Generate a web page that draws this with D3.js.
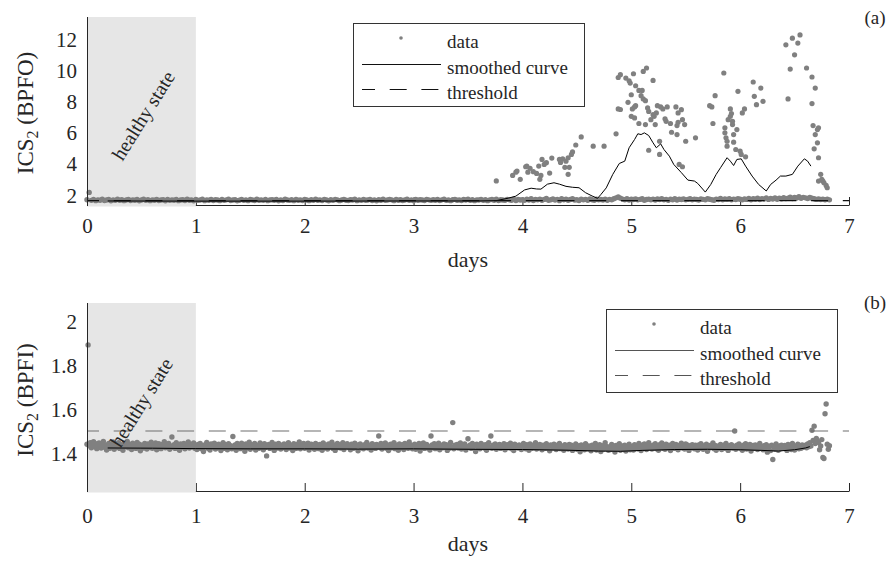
<!DOCTYPE html>
<html>
<head>
<meta charset="utf-8">
<script src="https://cdn.jsdelivr.net/npm/d3@7"></script>
<style>
  body { margin: 0; background: #fff; }
  svg text { font-family: "Liberation Serif", "Times New Roman", serif; }
</style>
</head>
<body>
<svg id="chart" width="892" height="562"></svg>
<script>
// shared axis values
var dayTicks = [0, 1, 2, 3, 4, 5, 6, 7];
var healthyDays = [0, 1];
var legendLabels = ["data", "smoothed curve", "threshold"];

// (a) BPFO -- low band sampled every bpfoStep days, starting at day 0
var bpfoTicks = [2, 4, 6, 8, 10, 12];
var bpfoStep = 0.02;
var bpfoLow = [
  1.72,2.19,1.68,1.74,1.66,1.71,1.69,1.75,1.67,1.70,1.73,1.65,1.71,1.68,1.76,1.69,1.72,1.66,1.70,1.74,
  1.67,1.71,1.69,1.73,1.65,1.70,1.75,1.68,1.72,1.66,1.71,1.69,1.74,1.67,1.70,1.72,1.65,1.73,1.68,1.71,
  1.69,1.74,1.66,1.70,1.72,1.67,1.75,1.69,1.71,1.65,1.73,1.68,1.70,1.76,1.66,1.71,1.69,1.74,1.67,1.72,
  1.70,1.66,1.73,1.68,1.71,1.75,1.67,1.70,1.72,1.65,1.69,1.74,1.68,1.71,1.66,1.73,1.70,1.67,1.75,1.69,
  1.71,1.68,1.74,1.66,1.70,1.72,1.69,1.73,1.65,1.71,1.67,1.75,1.70,1.68,1.72,1.66,1.74,1.69,1.71,1.67,
  1.73,1.70,1.66,1.72,1.68,1.75,1.69,1.71,1.67,1.74,1.70,1.65,1.72,1.68,1.73,1.71,1.66,1.70,1.74,1.69,
  1.67,1.72,1.70,1.75,1.66,1.71,1.68,1.73,1.69,1.70,1.74,1.67,1.71,1.65,1.72,1.69,1.76,1.68,1.70,1.73,
  1.71,1.66,1.74,1.69,1.72,1.67,1.70,1.75,1.68,1.71,1.66,1.73,1.69,1.72,1.70,1.67,1.74,1.71,1.68,1.72,
  1.69,1.73,1.67,1.71,1.75,1.68,1.70,1.66,1.72,1.74,1.69,1.71,1.67,1.73,1.70,1.76,1.68,1.72,1.66,1.71,
  1.70,1.74,1.68,1.72,1.66,1.71,1.73,1.69,1.75,1.67,1.72,1.70,1.68,1.74,1.71,1.69,1.76,1.67,1.73,1.70,
  1.72,1.68,1.75,1.70,1.78,1.67,1.73,1.71,1.76,1.69,1.74,1.80,1.68,1.72,1.77,1.70,1.74,1.66,1.79,1.71,
  1.75,1.69,1.73,1.78,1.70,1.72,1.67,1.76,1.71,1.74,1.69,1.77,1.72,1.68,1.75,1.71,1.73,1.70,1.76,1.69,
  1.74,1.71,1.78,1.84,1.90,1.82,1.76,1.72,1.79,1.70,1.75,1.73,1.77,1.71,1.74,1.78,1.69,1.73,1.76,1.72,
  1.75,1.70,1.77,1.73,1.79,1.71,1.74,1.68,1.76,1.72,1.78,1.70,1.75,1.73,1.77,1.71,1.74,1.79,1.72,1.76,
  1.73,1.70,1.77,1.74,1.71,1.78,1.75,1.72,1.69,1.76,1.73,1.80,1.71,1.77,1.74,1.79,1.72,1.76,1.73,1.78,
  1.75,1.71,1.77,1.74,1.80,1.72,1.78,1.75,1.82,1.73,1.79,1.76,1.84,1.74,1.80,1.77,1.83,1.75,1.81,1.78,
  1.85,1.79,1.82,1.88,1.80,1.86,1.83,1.91,1.81,1.87,1.84,1.80,1.86,1.82,1.78,1.74,1.77,1.73,1.76,1.72,
  1.75,1.71
];
// (a) BPFO -- scattered high readings, [day, value]
var bpfoHigh = [
  [3.76,2.93],[3.91,3.28],[3.94,3.49],[3.95,3.56],[3.98,3.03],[4.03,3.84],[4.04,3.88],[4.05,3.49],
  [4.07,3.74],[4.10,3.52],[4.13,3.41],[4.15,3.88],[4.16,3.03],[4.17,3.28],[4.18,4.31],[4.20,3.99],
  [4.22,4.10],[4.25,3.43],[4.27,4.40],[4.34,4.31],[4.35,4.12],[4.37,4.35],[4.39,3.80],[4.40,4.20],
  [4.42,4.42],[4.42,3.35],[4.43,3.80],[4.45,4.63],[4.46,4.79],[4.49,5.24],[4.54,5.76],[4.65,5.16],
  [4.75,5.16],[4.86,5.96],[4.88,7.56],[4.88,9.58],[4.90,9.76],[4.90,7.52],[4.95,9.54],[4.97,7.98],
  [4.98,9.37],[4.99,9.22],[5.00,8.47],[5.00,7.08],[5.01,7.56],[5.02,9.82],[5.03,7.69],[5.03,6.98],
  [5.04,9.05],[5.04,7.77],[5.07,8.75],[5.07,6.62],[5.09,8.41],[5.10,8.75],[5.11,9.97],[5.11,8.20],
  [5.13,8.09],[5.13,6.55],[5.14,10.19],[5.15,7.62],[5.16,7.40],[5.16,4.90],[5.18,6.87],[5.20,9.39],
  [5.20,7.19],[5.21,7.08],[5.22,6.55],[5.23,7.30],[5.24,7.77],[5.26,5.48],[5.26,4.63],[5.27,7.69],
  [5.29,7.56],[5.31,6.92],[5.32,6.76],[5.33,7.69],[5.36,6.62],[5.37,6.06],[5.41,7.69],[5.42,6.49],
  [5.42,5.91],[5.43,7.30],[5.43,6.70],[5.44,3.99],[5.46,7.51],[5.47,6.87],[5.47,3.84],[5.49,6.55],
  [5.50,5.48],[5.59,5.70],[5.72,7.77],[5.74,7.69],[5.75,6.62],[5.77,8.41],[5.85,9.87],[5.86,6.34],
  [5.86,6.02],[5.87,5.70],[5.88,5.48],[5.88,5.16],[5.89,6.87],[5.91,7.08],[5.91,7.56],[5.92,7.26],
  [5.93,6.76],[5.93,6.55],[5.94,5.91],[5.94,5.42],[5.96,4.95],[5.97,6.23],[5.98,8.69],[6.00,4.84],
  [6.01,4.63],[6.02,7.30],[6.04,7.56],[6.05,4.48],[6.12,9.29],[6.13,8.37],[6.15,7.83],[6.19,8.90],
  [6.21,8.05],[6.42,11.68],[6.44,8.20],[6.46,10.12],[6.48,12.11],[6.50,11.04],[6.53,11.79],[6.55,12.32],
  [6.61,10.19],[6.66,9.61],[6.66,7.90],[6.67,6.49],[6.68,4.99],[6.69,8.90],[6.69,5.91],[6.71,6.23],
  [6.71,5.38],[6.72,6.34],[6.72,4.42],[6.72,2.92],[6.74,3.35],[6.75,3.03],[6.76,2.92],[6.77,2.81],
  [6.79,2.64],[6.80,2.49]
];
var bpfoSmooth = [
  [0.19,1.64],[1.0,1.63],[2.0,1.63],[3.0,1.64],[3.6,1.64],[3.76,1.66],[3.87,1.82],[3.94,1.95],
  [4.02,2.35],[4.08,2.46],[4.13,2.41],[4.17,2.40],[4.23,2.72],[4.29,2.81],[4.34,2.72],[4.40,2.58],
  [4.46,2.52],[4.52,2.49],[4.58,2.17],[4.64,1.96],[4.69,1.81],[4.72,2.05],[4.77,2.48],[4.83,3.35],
  [4.89,4.05],[4.94,4.20],[4.98,5.06],[5.03,5.59],[5.06,5.96],[5.09,5.91],[5.12,6.02],[5.16,5.85],
  [5.20,5.38],[5.23,5.06],[5.27,5.31],[5.30,4.95],[5.35,4.52],[5.39,3.99],[5.46,3.46],[5.52,2.98],
  [5.58,2.92],[5.61,2.77],[5.68,2.21],[5.73,2.70],[5.78,3.35],[5.82,3.78],[5.88,4.42],[5.91,4.20],
  [5.94,3.92],[5.97,4.31],[6.01,4.35],[6.05,3.88],[6.11,3.24],[6.17,2.70],[6.24,2.28],[6.28,2.70],
  [6.33,2.98],[6.37,3.24],[6.42,3.24],[6.48,3.35],[6.53,3.88],[6.59,4.35],[6.62,4.20],[6.65,3.88]
];
var bpfoThreshold = 1.66;

// (b) BPFI -- sampled every bpfiStep days, starting at day 0
var bpfiTicks = [1.4, 1.6, 1.8, 2];
var bpfiStep = 0.01;
var bpfiData = [
  1.445,1.895,1.438,1.452,1.429,1.441,1.456,1.433,1.447,1.425,1.439,1.451,1.436,1.428,1.444,1.458,1.431,1.442,1.419,1.437,
  1.449,1.427,1.441,1.435,1.455,1.422,1.438,1.446,1.431,1.452,1.426,1.443,1.437,1.418,1.448,1.433,1.440,1.457,1.429,1.436,
  1.444,1.421,1.450,1.434,1.439,1.426,1.453,1.432,1.445,1.415,1.441,1.437,1.428,1.449,1.435,1.423,1.446,1.438,1.430,1.454,
  1.427,1.442,1.436,1.451,1.420,1.439,1.447,1.433,1.425,1.444,1.438,1.456,1.429,1.441,1.434,1.448,1.422,1.437,1.478,1.431,
  1.443,1.426,1.452,1.435,1.440,1.418,1.446,1.431,1.438,1.449,1.424,1.442,1.436,1.455,1.428,1.445,1.433,1.439,1.451,1.427,
  1.436,1.421,1.444,1.430,1.448,1.425,1.438,1.412,1.442,1.434,1.453,1.427,1.440,1.419,1.446,1.432,1.437,1.450,1.423,1.441,
  1.429,1.445,1.433,1.416,1.439,1.452,1.426,1.443,1.435,1.420,1.447,1.431,1.438,1.424,1.480,1.436,1.442,1.418,1.449,1.432,
  1.437,1.425,1.450,1.434,1.441,1.413,1.446,1.428,1.439,1.454,1.422,1.443,1.431,1.436,1.448,1.419,1.440,1.433,1.427,1.451,
  1.435,1.442,1.420,1.447,1.430,1.392,1.438,1.444,1.426,1.439,1.453,1.432,1.417,1.445,1.436,1.428,1.449,1.434,1.423,1.441,
  1.430,1.446,1.437,1.421,1.443,1.452,1.428,1.435,1.440,1.416,1.447,1.433,1.426,1.444,1.438,1.455,1.424,1.436,1.431,1.449,
  1.427,1.441,1.434,1.450,1.419,1.439,1.445,1.430,1.436,1.422,1.448,1.433,1.440,1.425,1.444,1.437,1.418,1.451,1.429,1.442,
  1.435,1.423,1.446,1.432,1.439,1.454,1.426,1.441,1.417,1.437,1.449,1.430,1.443,1.428,1.436,1.452,1.421,1.440,1.434,1.447,
  1.431,1.438,1.420,1.445,1.433,1.427,1.450,1.436,1.442,1.415,1.439,1.446,1.429,1.435,1.424,1.443,1.437,1.453,1.428,1.441,
  1.434,1.419,1.447,1.432,1.440,1.426,1.444,1.437,1.482,1.430,1.448,1.423,1.439,1.435,1.451,1.427,1.442,1.416,1.436,1.445,
  1.429,1.438,1.452,1.425,1.441,1.433,1.418,1.446,1.436,1.430,1.443,1.421,1.449,1.434,1.439,1.427,1.455,1.432,1.440,1.424,
  1.437,1.445,1.422,1.436,1.431,1.448,1.414,1.440,1.433,1.451,1.426,1.439,1.444,1.428,1.435,1.419,1.482,1.442,1.430,1.447,
  1.425,1.438,1.434,1.450,1.420,1.441,1.436,1.429,1.446,1.432,1.443,1.417,1.439,1.427,1.453,1.433,1.543,1.424,1.440,1.436,
  1.444,1.428,1.437,1.451,1.423,1.440,1.432,1.446,1.419,1.435,1.470,1.430,1.442,1.426,1.448,1.434,1.439,1.412,1.445,1.431,
  1.437,1.424,1.449,1.433,1.440,1.428,1.443,1.418,1.436,1.452,1.430,1.482,1.427,1.441,1.435,1.446,1.422,1.439,1.432,1.444,
  1.426,1.438,1.431,1.447,1.420,1.436,1.443,1.429,1.434,1.450,1.425,1.440,1.416,1.445,1.433,1.437,1.428,1.442,1.435,1.421,
  1.439,1.448,1.430,1.424,1.443,1.435,1.418,1.446,1.432,1.427,1.441,1.436,1.452,1.423,1.438,1.429,1.444,1.433,1.420,1.440,
  1.434,1.426,1.447,1.431,1.438,1.415,1.442,1.436,1.428,1.445,1.433,1.421,1.440,1.430,1.449,1.425,1.437,1.432,1.418,1.443,
  1.429,1.436,1.423,1.444,1.431,1.440,1.417,1.434,1.427,1.446,1.422,1.438,1.432,1.411,1.442,1.428,1.435,1.420,1.447,1.430,
  1.424,1.437,1.430,1.415,1.441,1.426,1.433,1.448,1.419,1.435,1.428,1.443,1.412,1.430,1.438,1.423,1.452,1.427,1.434,1.418,
  1.431,1.421,1.444,1.426,1.436,1.410,1.439,1.425,1.433,1.447,1.418,1.429,1.437,1.422,1.441,1.414,1.432,1.427,1.445,1.420,
  1.435,1.428,1.419,1.443,1.430,1.438,1.424,1.449,1.433,1.416,1.440,1.427,1.446,1.431,1.421,1.437,1.452,1.429,1.434,1.423,
  1.441,1.432,1.447,1.425,1.436,1.418,1.443,1.430,1.451,1.427,1.438,1.422,1.445,1.434,1.429,1.440,1.416,1.436,1.448,1.431,
  1.426,1.444,1.435,1.420,1.439,1.432,1.450,1.428,1.437,1.423,1.446,1.431,1.441,1.417,1.434,1.429,1.443,1.436,1.424,1.440,
  1.433,1.419,1.442,1.427,1.447,1.435,1.422,1.438,1.430,1.445,1.413,1.436,1.428,1.441,1.433,1.451,1.425,1.439,1.418,1.432,
  1.437,1.429,1.444,1.421,1.435,1.440,1.426,1.448,1.431,1.417,1.438,1.434,1.443,1.428,1.436,1.505,1.422,1.441,1.430,1.446,
  1.427,1.435,1.418,1.440,1.432,1.447,1.423,1.437,1.429,1.444,1.414,1.433,1.439,1.426,1.442,1.430,1.421,1.436,1.449,1.428,
  1.434,1.420,1.438,1.425,1.443,1.409,1.431,1.436,1.416,1.440,1.376,1.433,1.422,1.446,1.429,1.418,1.437,1.424,1.441,1.430,
  1.426,1.439,1.432,1.417,1.444,1.428,1.435,1.421,1.448,1.433,1.419,1.437,1.430,1.445,1.424,1.438,1.427,1.442,1.431,1.436,
  1.440,1.429,1.446,1.434,1.452,1.437,1.508,1.462,1.527,1.448,1.471,1.458,1.453,1.420,1.437,1.466,1.385,1.380,1.583,1.627,
  1.445,1.422,1.438
];
var bpfiSmooth = [
  [0.19,1.428],[0.6,1.427],[1.0,1.425],[1.5,1.424],[2.0,1.424],[2.5,1.423],[3.0,1.424],[3.5,1.422],
  [4.0,1.421],[4.4,1.418],[4.7,1.414],[4.9,1.413],[5.1,1.417],[5.4,1.421],[5.7,1.422],[6.0,1.420],
  [6.2,1.417],[6.35,1.414],[6.5,1.420],[6.6,1.428],[6.64,1.434]
];
var bpfiThreshold = 1.505;

var svg = d3.select("#chart");
var textColor = "#262626";
var dotColor = "#808080";

function draw_legend(svg, lx, ly, lineColor) {
  var g = svg.append("g").attr("transform", "translate(" + lx + "," + ly + ")");
  g.append("rect").attr("x", 0.5).attr("y", 0.5).attr("width", 231).attr("height", 83)
    .attr("fill", "#fff").attr("stroke", "#333").attr("stroke-width", 1);
  var rows = [15, 41, 66];
  g.append("circle").attr("cx", 48).attr("cy", rows[0]).attr("r", 1.8).attr("fill", dotColor);
  g.append("line").attr("x1", 9).attr("x2", 88).attr("y1", rows[1] + 0.5).attr("y2", rows[1] + 0.5)
    .attr("stroke", lineColor).attr("stroke-width", 1);
  g.append("line").attr("x1", 9).attr("x2", 88).attr("y1", rows[2] + 0.5).attr("y2", rows[2] + 0.5)
    .attr("stroke", lineColor).attr("stroke-width", 1).attr("stroke-dasharray", "17 14.7").attr("stroke-dashoffset", 4);
  legendLabels.forEach(function(label, i) {
    g.append("text").attr("x", 94).attr("y", rows[i] + 10).attr("font-size", 19)
      .attr("fill", textColor).text(label);
  });
}

function draw_panel(svg, p) {
  var x = d3.scaleLinear().domain([0, 7]).range([87, 849]);
  var y = d3.scaleLinear().domain(p.yDomain).range([p.bottom, p.top]);

  // axes below the healthy patch, ticks point inward
  var xAxis = d3.axisBottom(x).tickValues(dayTicks).tickSize(-8).tickSizeOuter(0)
    .tickPadding(p.xPad).tickFormat(d3.format("d"));
  var gx = svg.append("g").attr("transform", "translate(0," + p.bottom + ")").call(xAxis);
  var yAxis = d3.axisLeft(y).tickValues(p.yTicks).tickSize(-8).tickSizeOuter(0)
    .tickPadding(10).tickFormat(function(d) { return String(d); });
  var gy = svg.append("g").attr("transform", "translate(" + x(0) + ",0)").call(yAxis);
  gy.select(".domain").remove();
  [gx, gy].forEach(function(g) {
    g.attr("font-family", null).attr("font-size", 21).attr("color", "#262626");
    g.selectAll("text").attr("fill", textColor);
  });

  // healthy state patch
  svg.append("rect").attr("x", x(healthyDays[0])).attr("y", p.top)
    .attr("width", x(healthyDays[1]) - x(healthyDays[0])).attr("height", p.bottom - p.top + 1.5)
    .attr("fill", "#e6e6e6");

  var dots = svg.append("g").attr("fill", dotColor);
  dots.selectAll("circle.low").data(p.values).enter().append("circle")
    .attr("class", "low")
    .attr("cx", function(d, i) { return x(i * p.step); })
    .attr("cy", function(d) { return y(d); })
    .attr("r", 2.7);
  if (p.high) {
    dots.selectAll("circle.high").data(p.high).enter().append("circle")
      .attr("class", "high")
      .attr("cx", function(d) { return x(d[0]); })
      .attr("cy", function(d) { return y(d[1]); })
      .attr("r", 2.6);
  }

  var line = d3.line().x(function(d) { return x(d[0]); }).y(function(d) { return y(d[1]); });
  svg.append("path").datum(p.smooth).attr("d", line)
    .attr("fill", "none").attr("stroke", "#000").attr("stroke-width", 1);

  svg.append("line").attr("x1", x(0)).attr("x2", x(7))
    .attr("y1", y(p.threshold)).attr("y2", y(p.threshold))
    .attr("stroke", p.thrColor).attr("stroke-width", 1.2)
    .attr("stroke-dasharray", "17 14.7").attr("stroke-dashoffset", 5);

  // left axis line drawn over the patch
  svg.append("line").attr("x1", x(0) + 0.5).attr("x2", x(0) + 0.5)
    .attr("y1", p.top).attr("y2", p.bottom + 1)
    .attr("stroke", "#262626").attr("stroke-width", 1);

  svg.append("text")
    .attr("transform", "translate(" + p.healthyPos[0] + "," + p.healthyPos[1] + ") rotate(-58)")
    .attr("text-anchor", "middle").attr("dy", "0.3em").attr("font-size", 20)
    .attr("fill", textColor).text("healthy state");

  svg.append("text").attr("x", x(3.5)).attr("y", p.daysY).attr("text-anchor", "middle")
    .attr("font-size", 22).attr("fill", textColor).text("days");

  var yl = svg.append("text")
    .attr("transform", "translate(33," + p.labelY + ") rotate(-90)")
    .attr("text-anchor", "middle").attr("font-size", 23).attr("fill", textColor);
  yl.append("tspan").text("ICS");
  yl.append("tspan").attr("dy", 5).attr("font-size", 16).text("2");
  yl.append("tspan").attr("dy", -5).text(" (" + p.name + ")");

  svg.append("text").attr("x", 875).attr("y", p.tagY).attr("text-anchor", "middle")
    .attr("font-size", 19).attr("fill", textColor).text(p.tag);

  draw_legend(svg, p.legend[0], p.legend[1], p.legendLine);
}

draw_panel(svg, {
  name: "BPFO", tag: "(a)", tagY: 24,
  yDomain: [1.38, 13.47], top: 17, bottom: 205, yTicks: bpfoTicks,
  values: bpfoLow, step: bpfoStep, high: bpfoHigh, smooth: bpfoSmooth,
  threshold: bpfoThreshold, thrColor: "#111", legendLine: "#111",
  xPad: 13, daysY: 267, labelY: 113, healthyPos: [144, 116], legend: [353, 23]
});

draw_panel(svg, {
  name: "BPFI", tag: "(b)", tagY: 309,
  yDomain: [1.233, 2.085], top: 303, bottom: 491, yTicks: bpfiTicks,
  values: bpfiData, step: bpfiStep, high: null, smooth: bpfiSmooth,
  threshold: bpfiThreshold, thrColor: "#6e6e6e", legendLine: "#555",
  xPad: 17, daysY: 551, labelY: 400, healthyPos: [142, 403], legend: [606, 309]
});
</script>
</body>
</html>
